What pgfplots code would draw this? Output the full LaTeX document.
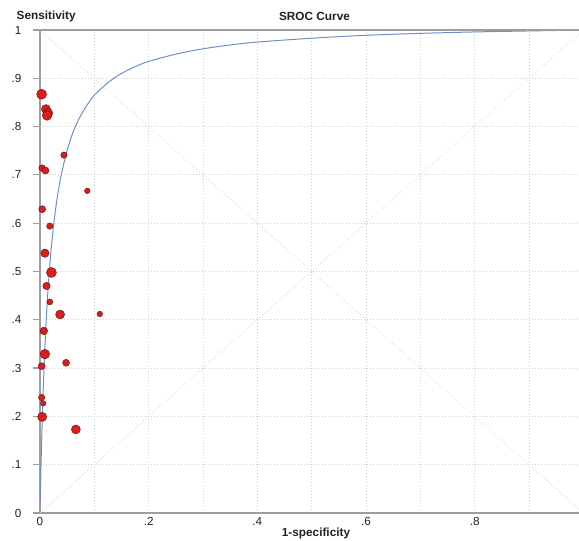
\documentclass[border=0pt]{standalone}
\usepackage{pgfplots}
\pgfplotsset{compat=1.18}
\usepackage{fontspec}
\setmainfont{Liberation Sans}
\definecolor{gridc}{HTML}{CFCFCF}
\definecolor{diagc}{HTML}{DADADA}
\definecolor{axc}{HTML}{9E9E9E}
\definecolor{curvec}{HTML}{6F8FC8}
\definecolor{markfill}{HTML}{D81E1E}
\definecolor{markdraw}{HTML}{6A0C0C}
\definecolor{labc}{HTML}{222222}
\pgfplotstableread{
x y r
0.003 0.867 5.0
0.011 0.836 4.6
0.015 0.828 4.6
0.013 0.823 4.8
0.044 0.741 3.2
0.004 0.714 3.4
0.010 0.709 3.5
0.087 0.667 2.8
0.004 0.629 3.5
0.018 0.594 3.2
0.009 0.538 4.2
0.021 0.498 5.0
0.012 0.470 3.7
0.018 0.437 3.0
0.037 0.411 4.5
0.110 0.412 2.8
0.007 0.377 3.8
0.009 0.329 4.8
0.003 0.304 3.5
0.048 0.311 3.5
0.003 0.239 3.2
0.006 0.227 2.7
0.004 0.199 4.6
0.066 0.173 4.5
}\studies
\pgfplotstableread{
x y
0.0004 0.022
0.001 0.054
0.002 0.103
0.003 0.147
0.004 0.187
0.005 0.224
0.006 0.257
0.008 0.316
0.010 0.367
0.012 0.411
0.015 0.466
0.020 0.540
0.025 0.595
0.030 0.640
0.035 0.676
0.040 0.705
0.050 0.751
0.060 0.786
0.070 0.812
0.080 0.833
0.090 0.850
0.100 0.865
0.125 0.891
0.150 0.910
0.175 0.924
0.200 0.935
0.250 0.950
0.300 0.961
0.350 0.969
0.400 0.975
0.500 0.983
0.600 0.989
0.700 0.993
0.800 0.996
0.900 0.998
0.992 0.9997
}\sroc
\begin{document}
\begin{tikzpicture}
\useasboundingbox (-40bp,-28bp) rectangle (539bp,513bp);
\begin{axis}[
  at={(0,0)}, anchor=south west,
  scale only axis, width=539bp, height=483bp,
  xmin=0, xmax=0.992, ymin=0, ymax=1,
  axis x line*=bottom, axis y line*=left,
  axis line style={-, draw=axc, line width=1.6bp},
  xtick={0,0.2,0.4,0.6,0.8}, xticklabels={0,.2,.4,.6,.8},
  minor xtick={0.1,0.3,0.5,0.7,0.9},
  ytick={0,0.1,0.2,0.3,0.4,0.5,0.6,0.7,0.8,0.9,1},
  yticklabels={0,.1,.2,.3,.4,.5,.6,.7,.8,.9,1},
  xtick style={draw=none}, minor tick length=0pt,
  ytick style={draw=axc, line width=1.2bp},
  tick align=outside, major tick length=7bp,
  grid=both,
  major grid style={draw=gridc, line width=0.8bp, dash pattern=on 1bp off 2bp},
  minor grid style={draw=gridc, line width=0.8bp, dash pattern=on 1bp off 2bp},
  ticklabel style={font=\fontsize{11.7bp}{13bp}\selectfont, text=labc},
  yticklabel style={xshift=-8bp},
  xticklabel style={yshift=6bp},
  clip=true,
]
\addplot[draw=diagc, line width=0.8bp, dash pattern=on 1bp off 2bp] coordinates {(0,0) (1,1)};
\addplot[draw=diagc, line width=0.8bp, dash pattern=on 1bp off 2bp] coordinates {(0,1) (1,0)};
\addplot[draw=curvec, line width=1bp, smooth] table[x=x,y=y] {\sroc};
\addplot[
  only marks, mark=*,
  scatter, scatter/use mapped color={draw=markdraw, fill=markfill},
  visualization depends on={\thisrow{r} \as \perpointmarksize},
  scatter/@pre marker code/.append style={/tikz/mark size=\perpointmarksize bp, /tikz/line width=0.5bp},
] table[x=x,y=y] {\studies};
\end{axis}
\draw[draw=axc, line width=1.3bp] (-7bp,483bp) -- (539bp,483bp);
\node[anchor=west, font=\fontsize{11.8bp}{13bp}\selectfont\bfseries, text=labc, inner sep=0pt] at (-23.5bp,497bp) {Sensitivity};
\node[font=\fontsize{11.8bp}{13bp}\selectfont\bfseries, text=labc, inner sep=0pt] at (274.5bp,497bp) {SROC Curve};
\node[font=\fontsize{11.8bp}{13bp}\selectfont\bfseries, text=labc, inner sep=0pt] at (276bp,-20bp) {1-specificity};
\end{tikzpicture}
\end{document}
